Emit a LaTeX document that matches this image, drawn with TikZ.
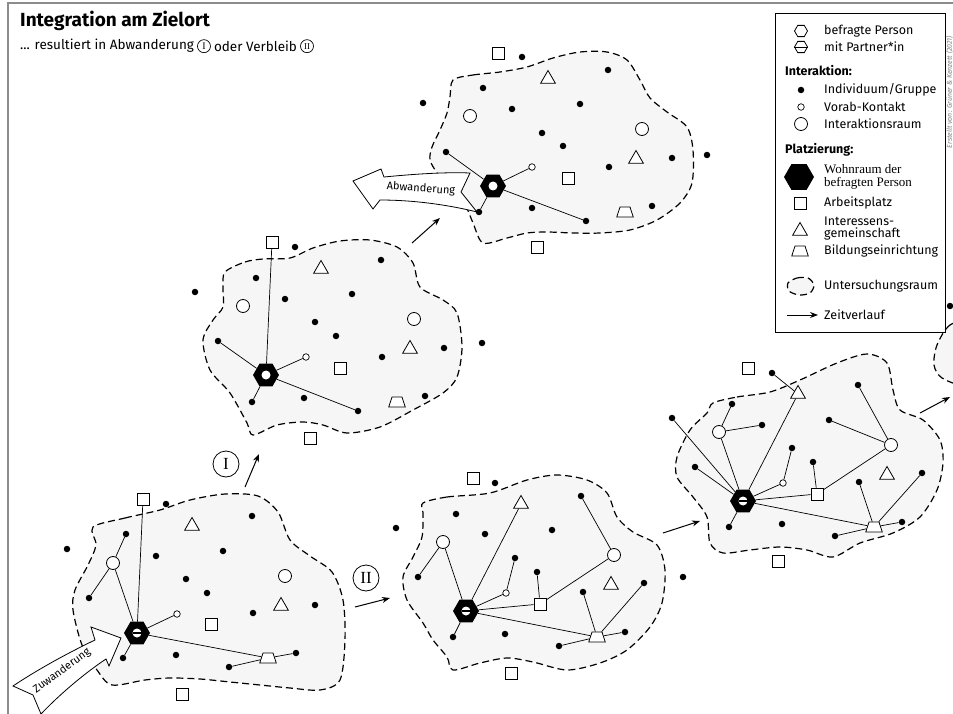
\documentclass[tikz,border=0pt]{standalone}
\usepackage{fontspec}
\setmainfont{Fira Sans}
\newfontfamily\serifschrift{Liberation Serif}
\usepackage{tikz}
\usetikzlibrary{shapes.geometric, arrows.meta, positioning}
\definecolor{raumgrau}{RGB}{246, 246, 246}
\definecolor{rahmen}{RGB}{140, 140, 140}

\begin{document}
\begin{tikzpicture}[x=1pt, y=-1pt,
  dot/.style={circle, fill=black, inner sep=0pt, minimum size=6.5pt},
  vorab/.style={circle, draw, fill=white, inner sep=0pt, minimum size=6.5pt, line width=0.7pt},
  iraum/.style={circle, draw, fill=white, inner sep=0pt, minimum size=13pt, line width=0.8pt},
  arbeit/.style={rectangle, draw, fill=white, inner sep=0pt, minimum size=12pt, line width=0.8pt},
  gemein/.style={regular polygon, regular polygon sides=3, draw, fill=white, inner sep=0pt, minimum size=17pt, line width=0.8pt},
  bildung/.style={trapezium, trapezium left angle=72, trapezium right angle=72, draw, fill=white, inner sep=1pt, minimum width=15pt, minimum height=10pt, line width=0.8pt},
  wohnbasis/.style={regular polygon, regular polygon sides=6, fill=black, inner sep=0pt, minimum size=26pt},
  wohnen/.style={wohnbasis, path picture={\fill[white] (path picture bounding box.center) circle (4.5pt);}},
  paar/.style={wohnbasis, path picture={\fill[white] (path picture bounding box.center) circle (4.5pt);
      \draw[line width=1.3pt] ([xshift=-4.5pt]path picture bounding box.center) -- ([xshift=4.5pt]path picture bounding box.center);}},
  link/.style={line width=0.7pt},
  raum/.style={draw, fill=raumgrau, line width=1.2pt, dash pattern=on 7pt off 4pt},
  zeit/.style={line width=1pt, -{Stealth[length=8pt, width=6pt]}},
  banner/.style={draw, fill=white, line width=0.8pt},
  roemisch/.style={circle, draw, line width=0.8pt, inner sep=0pt, minimum size=26pt, font=\serifschrift\fontsize{17}{17}\selectfont},
  legtext/.style={anchor=west, inner sep=0pt, font=\fontsize{12.5}{14}\selectfont}
]
  \useasboundingbox (0,0) rectangle (953,714);
  \clip (0,0) rectangle (953,714);

  \fill[white] (0,0) rectangle (953,714);
  \draw[rahmen, line width=1.5pt] (8,714) -- (8,3) -- (953,3);

  % titel
  \node[anchor=base west, inner sep=0pt, font=\bfseries\fontsize{19}{22}\selectfont] (titel) at (20,27) {Integration am Zielort};
  \node[anchor=base west, inner sep=0pt, font=\fontsize{13.5}{15}\selectfont] (unter1) at (20,50) {... resultiert in Abwanderung};
  \node[circle, draw, line width=0.7pt, inner sep=0pt, minimum size=13pt, font=\serifschrift\fontsize{10}{10}\selectfont, right=3pt of unter1] (num1) {I};
  \node[inner sep=0pt, font=\fontsize{13.5}{15}\selectfont, right=3pt of num1] (unter2) {oder Verbleib};
  \node[circle, draw, line width=0.7pt, inner sep=0pt, minimum size=13pt, font=\serifschrift\fontsize{9}{9}\selectfont, right=3pt of unter2] (num2) {II};

  % untersuchungsraeume
  \path[raum] plot[smooth cycle] coordinates {(93,527) (125,518) (160,510) (190,500) (225,494) (258,496) (278,512) (290,540) (310,556) (332,572) (343,600) (345,640) (340,680) (320,690) (290,688) (260,685) (230,682) (200,679) (170,678) (145,680) (112,685) (97,670) (82,645) (73,610) (75,590) (88,565) (96,545)};
  \path[raum] plot[smooth cycle] coordinates {(225,272) (245,262) (263,259) (290,258) (313,248) (340,241) (370,240) (397,247) (413,263) (420,287) (443,300) (457,313) (462,347) (457,377) (443,393) (413,410) (380,427) (347,433) (323,425) (303,422) (277,425) (253,435) (247,423) (230,393) (210,370) (203,340) (213,320) (223,307) (223,287)};
  \path[raum] plot[smooth cycle] coordinates {(453,80) (473,75) (500,72) (527,67) (553,58) (580,52) (607,52) (627,60) (640,80) (650,98) (667,112) (687,127) (693,150) (692,183) (680,203) (657,220) (630,230) (600,233) (573,233) (547,232) (527,233) (507,238) (483,243) (473,223) (465,205) (450,192) (437,173) (430,160) (432,147) (440,130) (447,113) (450,97)};
  \path[raum] plot[smooth cycle] coordinates {(423,503) (447,497) (490,493) (527,480) (557,475) (587,480) (607,493) (617,517) (633,532) (657,545) (665,570) (662,603) (650,627) (627,650) (600,663) (567,670) (533,662) (507,658) (480,663) (453,670) (447,657) (433,640) (423,623) (407,600) (403,577) (413,557) (422,537) (423,513)};
  \path[raum] plot[smooth cycle] coordinates {(713,403) (737,397) (770,392) (800,380) (837,363) (867,354) (887,363) (893,390) (900,410) (923,420) (940,440) (943,463) (937,490) (920,517) (893,533) (860,543) (833,557) (807,550) (780,547) (750,550) (723,553) (710,543) (707,517) (693,497) (677,477) (677,457) (690,430) (707,413)};
  \path[raum] plot[smooth cycle] coordinates {(975,318) (950,325) (937,345) (934,365) (942,378) (965,385) (990,370) (990,330)};

  % raum a: zuwanderung
  \foreach \n/\x/\y in {1/166/504, 2/252/516, 3/126/534, 4/67/549, 5/156/556, 6/223/551, 7/186/579, 8/207/593,
                        9/89/598, 10/315/605, 11/253/613, 12/176/655, 13/123/658, 14/296/653, 15/229/667} {
    \node[dot] (a\n) at (\x,\y) {};
  }
  \node[iraum] (ar1) at (113,563) {};
  \node[iraum] (ar2) at (285,576) {};
  \node[arbeit] (as1) at (143,499) {};
  \node[arbeit] (as2) at (211,624) {};
  \node[arbeit] (as3) at (182,694) {};
  \node[gemein] (at1) at (192,526) {};
  \node[gemein] (at2) at (281,606) {};
  \node[vorab] (av) at (177,614) {};
  \node[bildung] (ab) at (268,658) {};
  \node[paar] (ahex) at (137,633) {};
  \draw[link] (ahex) -- (as1);
  \draw[link] (ahex) -- (ar1) -- (a3);
  \draw[link] (ar1) -- (a9);
  \draw[link] (ahex) -- (av);
  \draw[link] (ahex) -- (a13);
  \draw[link] (ahex) -- (ab) -- (a14);
  \draw[link] (ab) -- (a15);

  % raum b
  \foreach \n/\x/\y in {1/295/247, 2/381/260, 3/256/278, 4/195/292, 5/352/294, 6/285/299, 7/315/322, 8/336/336,
                        9/444/348, 10/482/343, 11/218/341, 12/382/357, 13/425/396, 14/304/398, 15/252/402, 16/358/411} {
    \node[dot] (b\n) at (\x,\y) {};
  }
  \node[iraum] (br1) at (243,306) {};
  \node[iraum] (br2) at (414,319) {};
  \node[arbeit] (bs1) at (272,242) {};
  \node[arbeit] (bs2) at (340,368) {};
  \node[arbeit] (bs3) at (310,438) {};
  \node[gemein] (bt1) at (321,269) {};
  \node[gemein] (bt2) at (410,349) {};
  \node[vorab] (bv) at (306,357) {};
  \node[bildung] (bb) at (397,402) {};
  \node[wohnen] (bhex) at (266,375) {};
  \foreach \z in {bs1, b11, bv, b15, b16} {
    \draw[link] (bhex) -- (\z);
  }

  % raum c: abwanderung
  \foreach \n/\x/\y in {1/522/57, 2/608/70, 3/483/88, 4/423/103, 5/580/104, 6/512/109, 7/542/133, 8/563/146,
                        9/672/158, 10/707/155, 11/446/152, 12/609/167, 13/652/206, 14/532/208, 15/479/212, 16/586/221} {
    \node[dot] (c\n) at (\x,\y) {};
  }
  \node[iraum] (cr1) at (470,116) {};
  \node[iraum] (cr2) at (642,129) {};
  \node[arbeit] (cs1) at (498,53) {};
  \node[arbeit] (cs2) at (568,178) {};
  \node[arbeit] (cs3) at (537,247) {};
  \node[gemein] (ct1) at (548,79) {};
  \node[gemein] (ct2) at (636,159) {};
  \node[vorab] (cv) at (532,167) {};
  \node[bildung] (cb) at (625,212) {};
  \node[wohnen] (chex) at (493,186) {};
  \foreach \z in {c11, cv, c15, c16} {
    \draw[link] (chex) -- (\z);
  }

  % raum d: verbleib
  \foreach \n/\x/\y in {1/495/483, 2/581/496, 3/456/514, 4/396/528, 5/552/530, 6/485/534, 7/515/558, 8/537/572,
                        9/418/577, 10/644/583, 11/583/592, 12/505/634, 13/453/637, 14/625/632, 15/559/646, 16/683/577} {
    \node[dot] (d\n) at (\x,\y) {};
  }
  \node[iraum] (dr1) at (443,542) {};
  \node[iraum] (dr2) at (614,555) {};
  \node[arbeit] (ds1) at (473,478) {};
  \node[arbeit] (ds2) at (540,604) {};
  \node[arbeit] (ds3) at (511,673) {};
  \node[gemein] (dt1) at (521,504) {};
  \node[gemein] (dt2) at (611,585) {};
  \node[vorab] (dv) at (506,593) {};
  \node[bildung] (db) at (597,637) {};
  \node[paar] (dhex) at (466,611) {};
  \draw[link] (dhex) -- (dr1) -- (d9);
  \draw[link] (dhex) -- (dt1);
  \draw[link] (dhex) -- (dv) -- (d7);
  \draw[link] (dhex) -- (ds2) -- (d8);
  \draw[link] (ds2) -- (dr2) -- (d2);
  \draw[link] (dhex) -- (d13);
  \draw[link] (dhex) -- (db);
  \foreach \z in {d11, d10, d14, d15} {
    \draw[link] (db) -- (\z);
  }

  % raum e
  \foreach \n/\x/\y in {1/772/373, 2/858/385, 3/732/404, 4/672/418, 5/829/420, 6/762/425, 7/792/448, 8/695/467,
                        9/813/462, 10/922/473, 11/859/482, 12/902/522, 13/782/524, 14/729/527, 15/835/536} {
    \node[dot] (e\n) at (\x,\y) {};
  }
  \node[dot] (f1) at (950,306) {};
  \node[iraum] (er1) at (719,432) {};
  \node[iraum] (er2) at (891,445) {};
  \node[arbeit] (es1) at (748,368) {};
  \node[arbeit] (es2) at (817,494) {};
  \node[arbeit] (es3) at (778,561) {};
  \node[gemein] (et1) at (798,394) {};
  \node[gemein] (et2) at (887,475) {};
  \node[vorab] (ev) at (783,483) {};
  \node[bildung] (eb) at (874,527) {};
  \node[paar] (ehex) at (743,501) {};
  \draw[link] (ehex) -- (e4);
  \draw[link] (ehex) -- (e8);
  \draw[link] (ehex) -- (er1) -- (e3);
  \draw[link] (er1) -- (e6);
  \draw[link] (ehex) -- (et1) -- (e1);
  \draw[link] (ehex) -- (ev) -- (e7);
  \draw[link] (ehex) -- (es2) -- (e9);
  \draw[link] (es2) -- (er2) -- (e2);
  \draw[link] (er2) -- (e5);
  \draw[link] (ehex) -- (e14);
  \draw[link] (ehex) -- (eb);
  \foreach \z in {e11, e10, e12, e15} {
    \draw[link] (eb) -- (\z);
  }

  % zu- und abwanderung
  \draw[banner] (121,638) -- (109,666) -- (106,659) .. controls (85,673) and (60,694) .. (41,714)
    -- (33,695) -- (13,686) .. controls (40,668) and (70,652) .. (95,640) -- (91,627) -- cycle;
  \node[rotate=36, inner sep=0pt, font=\fontsize{11}{12}\selectfont] (zuw) at (62,671) {Zuwanderung};
  \draw[banner] (353,181) -- (381,169) -- (384,177) .. controls (415,174) and (445,172) .. (470,173)
    -- (461,192) -- (477,212) .. controls (445,204) and (410,200) .. (380,200) -- (373,209) -- cycle;
  \node[rotate=-4, inner sep=0pt, font=\fontsize{11}{12}\selectfont] (abw) at (421,189) {Abwanderung};

  % zeitverlauf
  \node[roemisch] (eins) at (226,464) {I};
  \node[roemisch] (zwei) at (366,578) {II};
  \coordinate (z1a) at (245,487);  \coordinate (z1b) at (259,454);
  \coordinate (z2a) at (412,243);  \coordinate (z2b) at (440,218);
  \coordinate (z3a) at (355,607);  \coordinate (z3b) at (390,598);
  \coordinate (z4a) at (663,533);  \coordinate (z4b) at (700,521);
  \coordinate (z5a) at (920,413);  \coordinate (z5b) at (950,397);
  \foreach \i in {1,...,5} {
    \draw[zeit] (z\i a) -- (z\i b);
  }

  % legende
  \draw[line width=0.9pt] (775,13) rectangle (945,332);
  \node[rotate=90, inner sep=0pt, text=gray, font=\itshape\fontsize{7}{8}\selectfont] (quelle) at (949.5,92) {Erstellt von: Grüner \& Kenzett (2021)};
  \node[regular polygon, regular polygon sides=6, draw, line width=0.8pt, inner sep=0pt, minimum size=13pt] (lg1) at (801,31) {};
  \node[regular polygon, regular polygon sides=6, draw, line width=0.8pt, inner sep=0pt, minimum size=13pt] (lg2) at (801,47) {};
  \draw[line width=0.8pt] (lg2.west) -- (lg2.east);
  \node[legtext] at (824,31) {befragte Person};
  \node[legtext] at (824,47) {mit Partner*in};
  \node[legtext, font=\bfseries\fontsize{12.5}{14}\selectfont] at (785,71) {Interaktion:};
  \node[dot] (lg3) at (801,90) {};
  \node[vorab] (lg4) at (801,107) {};
  \node[iraum] (lg5) at (801,124) {};
  \node[legtext] at (824,90) {Individuum/Gruppe};
  \node[legtext] at (824,107) {Vorab-Kontakt};
  \node[legtext] at (824,124) {Interaktionsraum};
  \node[legtext, font=\bfseries\fontsize{12.5}{14}\selectfont] at (785,150) {Platzierung:};
  \node[wohnbasis, minimum size=30pt] (lg6) at (799,177) {};
  \node[legtext, align=left, font=\serifschrift\fontsize{13}{12.5}\selectfont] at (824,177) {Wohnraum der\\befragten Person};
  \node[arbeit] (lg7) at (800,203) {};
  \node[legtext] at (824,203) {Arbeitsplatz};
  \node[gemein] (lg8) at (800,231) {};
  \node[legtext, align=left, font=\fontsize{12.5}{12}\selectfont] at (824,229) {Interessens-\\gemeinschaft};
  \node[bildung] (lg9) at (800,251) {};
  \node[legtext] at (824,251) {Bildungseinrichtung};
  \path[raum] plot[smooth cycle] coordinates {(788,283) (797,278) (808,278) (814,285) (810,293) (799,295) (789,291)};
  \node[legtext] at (824,286) {Untersuchungsraum};
  \coordinate (lz1) at (787,315);
  \coordinate (lz2) at (818,315);
  \draw[zeit] (lz1) -- (lz2);
  \node[legtext] at (824,315) {Zeitverlauf};

\end{tikzpicture}
\end{document}
